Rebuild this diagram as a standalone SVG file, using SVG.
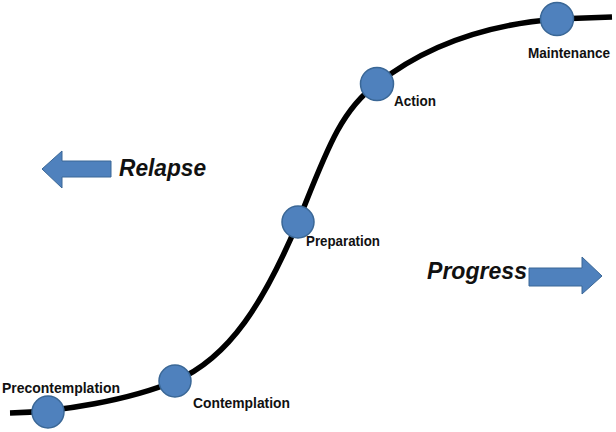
<svg xmlns="http://www.w3.org/2000/svg" width="616" height="432" viewBox="0 0 616 432">
<style>
.stage circle{fill:#4F81BD;stroke:#3A6796;stroke-width:1.5}
.lbl{font-family:"Liberation Sans",Arial,sans-serif;font-weight:bold;font-size:14px;fill:#111}
.big{font-family:"Liberation Sans",Arial,sans-serif;font-weight:bold;font-style:italic;font-size:24px;fill:#111}
.arrow{fill:#4F81BD;stroke:#3A6796;stroke-width:1}
</style>
<rect width="616" height="432" fill="#fff"/>
<g id="connectors">
<path d="M10,413 C60,412 130,400 175,381 C230,358 265,300 298,222 C325,155 340,110 377,84 C420,50 480,25 557,19 L612,17" fill="none" stroke="#000" stroke-width="5.5"/>
</g>
<g id="relapse">
<polygon class="arrow" points="42,169 62,151 62,161 111,161 111,177 62,177 62,188"/>
<text class="big" x="119" y="176" textLength="87" lengthAdjust="spacingAndGlyphs">Relapse</text>
</g>
<g id="progress">
<polygon class="arrow" points="529,268 582,268 582,257 602,276 582,294 582,286 529,286"/>
<text class="big" x="427" y="279" textLength="100" lengthAdjust="spacingAndGlyphs">Progress</text>
</g>
<g id="precontemplation" class="stage">
<circle cx="48" cy="412" r="16"/>
<text class="lbl" x="2" y="393" textLength="118" lengthAdjust="spacingAndGlyphs">Precontemplation</text>
</g>
<g id="contemplation" class="stage">
<circle cx="175" cy="381" r="16"/>
<text class="lbl" x="193" y="408" textLength="97" lengthAdjust="spacingAndGlyphs">Contemplation</text>
</g>
<g id="preparation" class="stage">
<circle cx="298" cy="222" r="16"/>
<text class="lbl" x="306" y="246" textLength="74" lengthAdjust="spacingAndGlyphs">Preparation</text>
</g>
<g id="action" class="stage">
<circle cx="377" cy="84" r="16.5"/>
<text class="lbl" x="394" y="106" textLength="42" lengthAdjust="spacingAndGlyphs">Action</text>
</g>
<g id="maintenance" class="stage">
<circle cx="557" cy="19" r="16.5"/>
<text class="lbl" x="528" y="58" textLength="82" lengthAdjust="spacingAndGlyphs">Maintenance</text>
</g>
</svg>
